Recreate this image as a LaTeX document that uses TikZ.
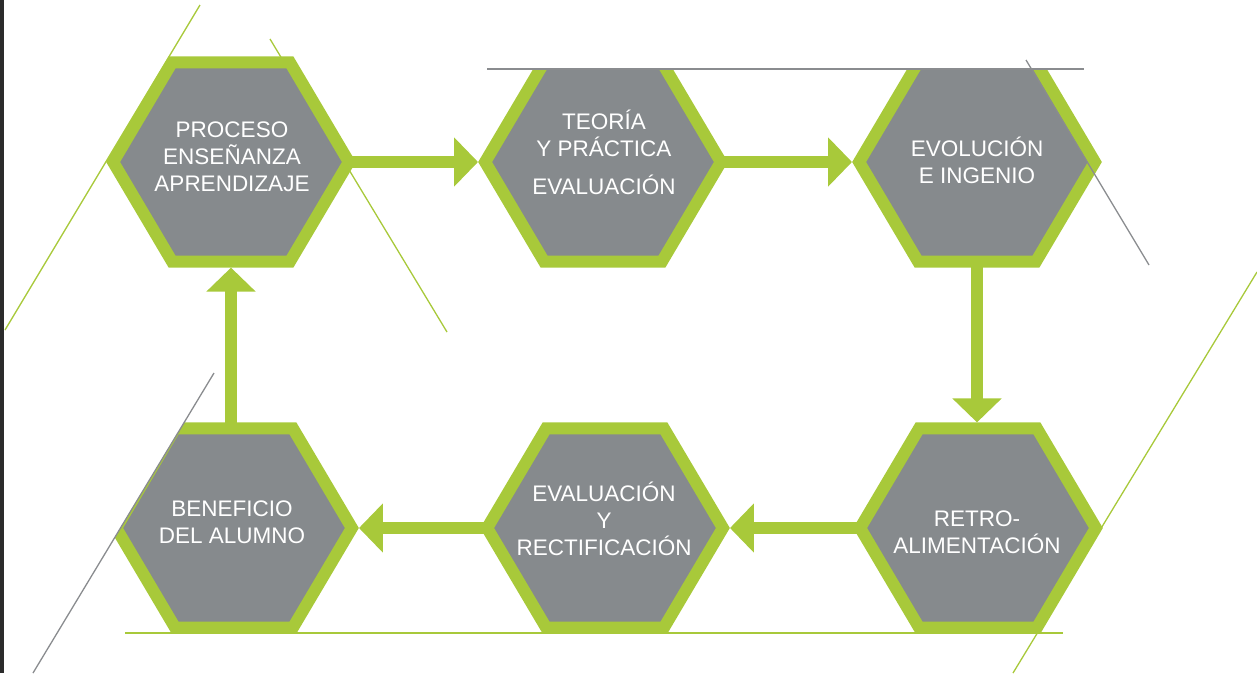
\documentclass[tikz,border=0pt]{standalone}
\usepackage{fontspec}
\setmainfont{Liberation Sans}
\usetikzlibrary{shapes.geometric,arrows.meta}

\definecolor{hexgreen}{RGB}{168,201,58}
\definecolor{hexgray}{RGB}{134,138,141}
\definecolor{linegray}{RGB}{138,140,143}
\definecolor{stripdark}{RGB}{43,43,43}

\tikzstyle{hexagon}=[regular polygon,regular polygon sides=6,minimum size=230pt,
    inner sep=0pt,fill=hexgray,draw=hexgreen,line width=12pt,
    xscale=1.025,transform shape]
\tikzstyle{hexagon text}=[text=white,align=center,inner sep=0pt,
    font=\fontsize{22.5}{27}\selectfont]
\tikzstyle{flow}=[draw=hexgreen,line width=12pt,shorten <=-4pt,
    -{Triangle[length=24pt,width=48pt]}]
\tikzstyle{deco green}=[hexgreen,line width=1.3pt]
\tikzstyle{deco gray}=[linegray,line width=1.3pt]
\newcommand{\hexa}[4]{
    \node[hexagon] at (#1) (#2) {};
    \node[hexagon text] at (#3) (#2-text) {#4};
}
\newcommand{\flow}[2]{\draw[flow] (#1) -- (#2);}

\begin{document}
\begin{tikzpicture}[x=1pt,y=-1pt]
    \useasboundingbox (0,0) rectangle (1257,673);
    \fill[stripdark] (0,0) rectangle (4,673);
    %
    \draw[deco green] (200,5) -- (5,330);
    \draw[deco green] (270,39) -- (447,332);
    \draw[deco green] (1257,272) -- (1013,673);
    \draw[deco green, line width=1.6pt] (125,633) -- (1063,633);
    %
    \hexa{231,162}{PEA}{232,157}{PROCESO\\ENSEÑANZA\\APRENDIZAJE}
    \begin{scope}
        \clip (470,69) rectangle (1120,280);
        \hexa{603,162}{TYP}{604,152}{TEORÍA\\Y PRÁCTICA\\[11pt]EVALUACIÓN}
        \hexa{977,162}{EIN}{977,160}{EVOLUCIÓN\\E INGENIO}
    \end{scope}
    %
    \begin{scope}
        \clip (214,373) -- (33,673) -- (420,673) -- (420,373) -- cycle;
        \hexa{234,528}{BDA}{232,522}{BENEFICIO\\DEL ALUMNO}
    \end{scope}
    \hexa{605,528}{EYR}{604,519}{EVALUACIÓN\\Y\\RECTIFICACIÓN}
    \hexa{978,528}{RET}{977,532}{RETRO-\\ALIMENTACIÓN}
    %
    \draw[deco gray] (487,69) -- (1084,69);
    \draw[deco gray] (1026,60) -- (1149,265);
    \draw[deco gray] (214,373) -- (33,673);
    %
    \flow{PEA.east}{TYP.west}
    \flow{TYP.east}{EIN.west}
    \flow{EIN.south}{EIN.south |- RET.north}
    \flow{RET.west}{EYR.east}
    \flow{EYR.west}{BDA.east}
    \flow{PEA.south |- BDA.north}{PEA.south}
\end{tikzpicture}
\end{document}
